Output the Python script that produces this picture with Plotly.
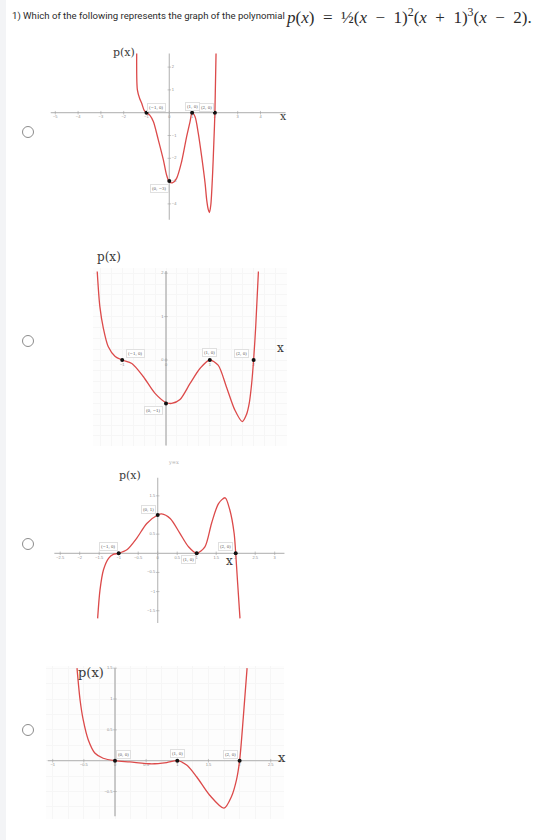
import plotly.graph_objects as go

W, H = 547, 840

# ---------------- data ----------------
# Option A
a_x = [-1.43, -1.40, -1.30, -1.21, -1.10, -1.00, -0.85, -0.70, -0.48, -0.26, -0.12, 0.00, 0.15, 0.32,
       0.54, 0.76, 0.91, 1.00, 1.13, 1.27, 1.42, 1.57, 1.64, 1.71, 1.76, 1.82, 1.90, 1.95, 2.00, 2.05]
a_y = [2.60, 1.00, 0.62, 0.41, 0.10, 0.00, -0.12, -0.39, -1.20, -2.07, -2.73, -3.03, -3.07, -2.88,
       -2.15, -1.05, -0.39, 0.00, -0.18, -0.90, -1.93, -3.10, -3.82, -4.25, -4.38, -4.05, -2.66, -1.40, 0.00, 2.60]
a_pts_x = [-1, 0, 1, 2]
a_pts_y = [0, -3, 0, 0]
a_pt_labels = ["(−1, 0)", "(0, −3)", "(1, 0)", "(2, 0)"]
a_xticks = [-5, -4, -3, -2, -1, 0, 1, 2, 3, 4]
a_yticks = [2, 1, -1, -2, -3, -4]

# Option B
b_x = [-1.57, -1.51, -1.43, -1.32, -1.16, -1.00, -0.78, -0.52, -0.25, 0.00, 0.13, 0.32, 0.55, 0.78,
       1.00, 1.19, 1.38, 1.57, 1.74, 1.84, 1.90, 1.95, 2.00, 2.05, 2.11]
b_y = [2.04, 1.23, 0.73, 0.31, 0.08, 0.00, -0.08, -0.38, -0.77, -0.98, -1.00, -0.91, -0.54, -0.19,
       0.00, -0.12, -0.62, -1.15, -1.42, -1.25, -1.00, -0.60, 0.00, 0.80, 2.04]
b_pts_x = [-1, 0, 1, 2]
b_pts_y = [0, -1, 0, 0]
b_pt_labels = ["(−1, 0)", "(0, −1)", "(1, 0)", "(2, 0)"]
b_xticks = [-2, -1, 0, 1, 2]
b_yticks = [2, 1, 0, -2]

# Option C
c_x = [-1.54, -1.48, -1.39, -1.26, -1.14, -1.00, -0.79, -0.54, -0.28, 0.00, 0.10, 0.32, 0.57, 0.79,
       1.00, 1.21, 1.38, 1.56, 1.73, 1.85, 1.96, 2.00, 2.05, 2.11]
c_y = [-1.70, -0.96, -0.43, -0.13, -0.03, 0.00, 0.09, 0.39, 0.78, 1.00, 1.03, 0.91, 0.52, 0.17,
       0.00, 0.17, 0.78, 1.30, 1.45, 1.13, 0.52, 0.00, -0.78, -1.70]
c_pts_x = [-1, 0, 1, 2]
c_pts_y = [0, 1, 0, 0]
c_pt_labels = ["(−1, 0)", "(0, 1)", "(1, 0)", "(2, 0)"]
c_xticks = [-2.5, -2, -1.5, -1, -0.5, 0, 0.5, 1, 1.5, 2, 2.5, 3]
c_yticks = [1.5, 0.5, -0.5, -1, -1.5]

# Option D
d_x = [-0.61, -0.56, -0.51, -0.43, -0.32, -0.19, 0.00, 0.24, 0.59, 0.83, 1.00, 1.15, 1.31, 1.52,
       1.75, 1.87, 1.95, 2.00, 2.06, 2.12]
d_y = [1.50, 0.98, 0.66, 0.34, 0.12, 0.04, 0.00, -0.02, -0.05, -0.03, 0.00, -0.07, -0.26, -0.56,
       -0.77, -0.58, -0.31, 0.00, 0.71, 1.50]
d_pts_x = [0, 1, 2]
d_pts_y = [0, 0, 0]
d_pt_labels = ["(0, 0)", "(1, 0)", "(2, 0)"]
d_xticks = [-1, -0.5, 0, 0.5, 1, 1.5, 2, 2.5]
d_yticks = [1.5, 1, 0.5, -0.5]

# ---------------- layout geometry (pixels) ----------------
panels = [
    dict(ox=169.3, oy=112.7, sx=22.8, sy=22.8, L=47, R=288, T=50, B=225, grid=False,
         xline=(-5.2, 5.1), yline=(-4.7, 2.6), ylab_side="right",
         cx=a_x, cy=a_y, px=a_pts_x, py=a_pts_y, pl=a_pt_labels,
         shifts=[(10, 5), (-10, -7), (0, 6), (-8, 5)], xt=a_xticks, yt=a_yticks,
         plab=(124, 52, 11), xlab=(283, 117, 11)),
    dict(ox=166.0, oy=360.0, sx=43.8, sy=43.4, L=93, R=287, T=268, B=446, grid=True,
         xline=None, yline=(-1.97, 2.05), ylab_side="left",
         cx=b_x, cy=b_y, px=b_pts_x, py=b_pts_y, pl=b_pt_labels,
         shifts=[(13, 7), (-13, -7), (0, 8), (-12, 7)], xt=b_xticks, yt=b_yticks,
         plab=(109, 257, 12), xlab=(280, 348, 12)),
    dict(ox=157.7, oy=553.3, sx=39.0, sy=38.3, L=52, R=290, T=472, B=626, grid=False,
         xline=(-2.65, 3.25), yline=(-1.82, 1.97), ylab_side="left",
         cx=c_x, cy=c_y, px=c_pts_x, py=c_pts_y, pl=c_pt_labels,
         shifts=[(-10, 7), (-9, 6), (-8, -6), (-10, 7)], xt=c_xticks, yt=c_yticks,
         plab=(130, 475, 11), xlab=(229, 561, 12)),
    dict(ox=115.0, oy=760.7, sx=62.3, sy=61.7, L=46, R=284, T=666, B=819, grid=True,
         xline=(-1.08, 2.68), yline=(-0.9, 1.5), ylab_side="left",
         cx=d_x, cy=d_y, px=d_pts_x, py=d_pts_y, pl=d_pt_labels,
         shifts=[(8, 6), (0, 7), (-9, 6)], xt=d_xticks, yt=d_yticks,
         plab=(91, 672, 13), xlab=(282, 757, 13)),
]
radio_y = [132, 341, 544, 730]

RED = "#dc4a4a"
AX = "#bdbdbd"
TICKC = "#8f8f8f"

def fmt(v):
    s = ("%g" % v)
    return s.replace("-", "−")

fig = go.Figure()
annotations = []
shapes = []

for i, p in enumerate(panels):
    n = "" if i == 0 else str(i + 1)
    xa, ya = "x" + n, "y" + n
    xr = [(p["L"] - p["ox"]) / p["sx"], (p["R"] - p["ox"]) / p["sx"]]
    yr = [(p["oy"] - p["B"]) / p["sy"], (p["oy"] - p["T"]) / p["sy"]]
    axcommon = dict(showticklabels=False, zeroline=False, showline=False, ticks="",
                    fixedrange=True)
    fig.layout["xaxis" + n] = dict(domain=[p["L"] / W, p["R"] / W], range=xr, anchor=ya,
                                   showgrid=p["grid"], gridcolor="#f6f6f6", gridwidth=0.6,
                                   dtick=0.25, **axcommon)
    fig.layout["yaxis" + n] = dict(domain=[1 - p["B"] / H, 1 - p["T"] / H], range=yr, anchor=xa,
                                   showgrid=p["grid"], gridcolor="#f6f6f6", gridwidth=0.6,
                                   dtick=0.25, **axcommon)
    if p["grid"]:
        shapes.append(dict(type="rect", xref="paper", yref="paper",
                           x0=p["L"] / W, x1=p["R"] / W, y0=1 - p["B"] / H, y1=1 - p["T"] / H,
                           fillcolor="#fdfdfd", line=dict(width=0), layer="below"))
    # axis lines
    if p["xline"]:
        fig.add_trace(go.Scatter(x=list(p["xline"]), y=[0, 0], mode="lines",
                                 line=dict(color=AX, width=1.2), xaxis=xa, yaxis=ya,
                                 hoverinfo="skip", showlegend=False))
    fig.add_trace(go.Scatter(x=[0, 0], y=list(p["yline"]), mode="lines",
                             line=dict(color=AX, width=1.6 if p["grid"] else 1.2), xaxis=xa, yaxis=ya,
                             hoverinfo="skip", showlegend=False))
    # tick marks and tick labels
    fig.add_trace(go.Scatter(x=p["xt"], y=[0] * len(p["xt"]), mode="markers+text",
                             marker=dict(symbol="line-ns", size=2.5, line=dict(color="#a0a0a0", width=0.6)),
                             text=[fmt(t) for t in p["xt"]], textposition="bottom center",
                             textfont=dict(size=4, color=TICKC, family="Arial"),
                             cliponaxis=False, xaxis=xa, yaxis=ya, hoverinfo="skip", showlegend=False))
    fig.add_trace(go.Scatter(x=[0] * len(p["yt"]), y=p["yt"], mode="markers+text",
                             marker=dict(symbol="line-ew", size=2.5, line=dict(color="#a0a0a0", width=0.6)),
                             text=[fmt(t) for t in p["yt"]],
                             textposition="middle " + p["ylab_side"],
                             textfont=dict(size=4, color=TICKC, family="Arial"),
                             cliponaxis=False, xaxis=xa, yaxis=ya, hoverinfo="skip", showlegend=False))
    # curve
    fig.add_trace(go.Scatter(x=p["cx"], y=p["cy"], mode="lines",
                             line=dict(color=RED, width=1.3, shape="spline", smoothing=0.8),
                             xaxis=xa, yaxis=ya, hoverinfo="skip", showlegend=False))
    # key points
    fig.add_trace(go.Scatter(x=p["px"], y=p["py"], mode="markers",
                             marker=dict(color="#111", size=4), cliponaxis=False,
                             xaxis=xa, yaxis=ya, hoverinfo="skip", showlegend=False))
    for (xx, yy, lab, sh) in zip(p["px"], p["py"], p["pl"], p["shifts"]):
        annotations.append(dict(x=xx, y=yy, xref=xa, yref=ya, text=lab, showarrow=False,
                                xshift=sh[0], yshift=sh[1],
                                font=dict(size=4, color="#555", family="DejaVu Serif"),
                                bgcolor="white", bordercolor="#e0e0e0", borderwidth=1, borderpad=1))
    # p(x) and x labels
    lx, ly, ls = p["plab"]
    annotations.append(dict(x=lx / W, y=1 - ly / H, xref="paper", yref="paper", text="p(x)",
                            showarrow=False, xanchor="center", yanchor="middle",
                            font=dict(size=ls, color="#3a3a3a", family="DejaVu Serif")))
    xx, xy, xs = p["xlab"]
    annotations.append(dict(x=xx / W, y=1 - xy / H, xref="paper", yref="paper", text="x",
                            showarrow=False, xanchor="center", yanchor="middle",
                            font=dict(size=xs, color="#3a3a3a", family="DejaVu Serif")))

# small faint mark above option C
annotations.append(dict(x=166 / W, y=1 - 462 / H, xref="paper", yref="paper", text="y=x",
                        showarrow=False, font=dict(size=5, color="#aaa", family="DejaVu Serif")))

# title
annotations.append(dict(x=10 / W, y=1 - 16 / H, xref="paper", yref="paper",
                        text="1) Which of the following represents the graph of the polynomial",
                        showarrow=False, xanchor="left", yanchor="middle",
                        font=dict(size=9.6, color="#2b2b2b", family="Roboto")))
annotations.append(dict(x=284 / W, y=1 - 16 / H, xref="paper", yref="paper",
                        text=("<i>p</i>(<i>x</i>)&nbsp; = &nbsp;½(<i>x</i>&nbsp; − &nbsp;1)<sup>2</sup>"
                              "(<i>x</i>&nbsp; + &nbsp;1)<sup>3</sup>(<i>x</i>&nbsp; − &nbsp;2)."),
                        showarrow=False, xanchor="left", yanchor="middle",
                        font=dict(size=17, color="#2b2b2b", family="Liberation Serif")))

# left strip and radio buttons
shapes.append(dict(type="rect", xref="paper", yref="paper", x0=0, x1=6 / W, y0=0, y1=1,
                   fillcolor="#f3f4f6", line=dict(width=0), layer="below"))
for ry in radio_y:
    r = 5.5
    shapes.append(dict(type="circle", xref="paper", yref="paper",
                       x0=(28 - r) / W, x1=(28 + r) / W, y0=1 - (ry + r) / H, y1=1 - (ry - r) / H,
                       line=dict(color="#8c8c8c", width=1), fillcolor="white"))

fig.update_layout(width=W, height=H, margin=dict(l=0, r=0, t=0, b=0),
                  paper_bgcolor="white", plot_bgcolor="white",
                  annotations=annotations, shapes=shapes, showlegend=False)
fig.write_html("out.html")
